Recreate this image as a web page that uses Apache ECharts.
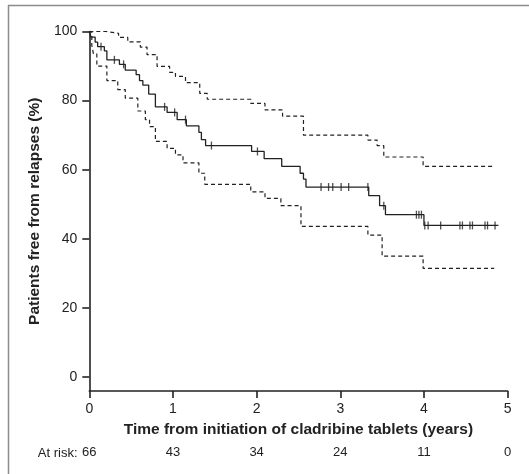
<!DOCTYPE html>
<html>
<head>
<meta charset="utf-8">
<script src="https://cdn.jsdelivr.net/npm/echarts@6/dist/echarts.min.js"></script>
<style>
html,body{margin:0;padding:0;background:#fff;}
#chart{width:529px;height:474px;}
</style>
</head>
<body>
<div id="chart"></div>
<script>
// Kaplan-Meier estimate (time in years, % free from relapses)
const kmTime = [0,0.02,0.07,0.10,0.18,0.21,0.36,0.43,0.56,0.60,0.64,0.71,0.79,0.93,1.05,1.16,1.31,1.34,1.39,1.94,2.09,2.30,2.52,2.56,2.59,3.34,3.47,3.54,4.00,4.89];
const kmSurv = [100,98.4,96.9,95.6,94.4,91.8,90.5,88.8,87.5,85.8,84.5,81.9,78.2,76.6,74.5,72.7,70.8,68.7,67.0,65.3,63.2,61.0,59.0,57.3,55.0,52.5,49.6,47.0,43.9,43.9];
// Censored observations
const censorTime = [0.14,0.30,0.41,0.90,1.02,1.15,1.46,2.01,2.77,2.86,2.91,3.01,3.10,3.33,3.52,3.91,3.94,3.97,4.01,4.05,4.20,4.43,4.46,4.55,4.58,4.73,4.76,4.85];
const censorSurv = [95.6,91.8,90.5,78.2,76.6,74.5,67.0,65.3,55,55,55,55,55,55,49.6,47,47,47,43.9,43.9,43.9,43.9,43.9,43.9,43.9,43.9,43.9,43.9];
// Upper 95% CI
const upTime = [0,0.20,0.35,0.46,0.61,0.69,0.81,0.96,1.03,1.15,1.32,1.41,1.93,2.10,2.31,2.56,3.33,3.44,3.52,3.99,4.85];
const upVal = [100,99.5,98.3,97,95.5,93.3,89.9,88.2,87,85.2,82.1,80.4,79.2,77.3,75.5,70,68.6,67,63.7,61,61];
// Lower 95% CI
const loTime = [0,0.03,0.05,0.09,0.21,0.34,0.43,0.58,0.67,0.72,0.79,0.93,1.03,1.12,1.31,1.38,1.93,2.10,2.29,2.53,3.33,3.50,3.99,4.84];
const loVal = [100,96,93.5,90,85.8,83.2,80.7,77,74.5,72.5,68.2,66.2,64.3,62,59,55.8,53.6,51.7,49.6,43.6,41.1,35,31.5,31.5];
// Numbers at risk
const atRiskTime = [0,1,2,3,4,5];
const atRisk = [66,43,34,24,11,0];
const yTicks = [0,20,40,60,80,100];

const zip = (a,b) => a.map((t,i) => [t,b[i]]);
const ink = '#222';
const font = '"Liberation Sans", Arial, Helvetica, sans-serif';

const chart = echarts.init(document.getElementById('chart'), null, {renderer:'canvas'});
chart.setOption({
  animation:false,
  backgroundColor:'#fff',
  grid:{left:89.3, right:21.4, top:31.5, bottom:83, containLabel:false},
  xAxis:[{
    type:'value', min:0, max:5, interval:1,
    position:'bottom',
    axisLine:{show:true, onZero:false, lineStyle:{color:ink, width:1.6}},
    axisTick:{show:true, length:7, lineStyle:{color:ink, width:1.6}},
    axisLabel:{color:ink, fontSize:14, fontFamily:font, margin:11},
    splitLine:{show:false},
    name:'Time from initiation of cladribine tablets (years)',
    nameLocation:'middle', nameGap:31,
    nameTextStyle:{color:ink, fontSize:15.5, fontWeight:'bold', fontFamily:font}
  },{
    type:'value', min:0, max:5, interval:1,
    position:'bottom',
    axisLine:{show:false}, axisTick:{show:false}, splitLine:{show:false},
    axisLabel:{color:ink, fontSize:13, fontFamily:font, margin:55,
      formatter:v => { const i = atRiskTime.indexOf(v); return i >= 0 ? String(atRisk[i]) : ''; }}
  }],
  yAxis:{
    type:'value', min:-4, max:100,
    axisLine:{show:true, onZero:false, lineStyle:{color:ink, width:1.6}},
    axisTick:{show:true, length:7, lineStyle:{color:ink, width:1.6}, customValues:yTicks},
    axisLabel:{color:ink, fontSize:14, fontFamily:font, margin:12, customValues:yTicks},
    splitLine:{show:false},
    name:'Patients free from relapses (%)',
    nameLocation:'middle', nameGap:45,
    nameTextStyle:{color:ink, fontSize:15.5, fontWeight:'bold', fontFamily:font}
  },
  graphic:[
    {type:'line', shape:{x1:8.5, y1:5, x2:8.5, y2:474}, style:{stroke:'#8c8c8c', lineWidth:1.5}, silent:true},
    {type:'line', shape:{x1:8, y1:5.5, x2:529, y2:5.5}, style:{stroke:'#8c8c8c', lineWidth:1.5}, silent:true},
    {type:'text', x:77.5, y:453, style:{text:'At risk:', fill:ink, font:'13px '+font, textAlign:'right', textVerticalAlign:'middle'}, silent:true}
  ],
  series:[
    {type:'line', step:'end', data:zip(upTime,upVal), showSymbol:false, symbol:'none',
     lineStyle:{color:ink, width:1.2, type:[4,3]}, z:2},
    {type:'line', step:'end', data:zip(loTime,loVal), showSymbol:false, symbol:'none',
     lineStyle:{color:ink, width:1.2, type:[4,3]}, z:2},
    {type:'line', step:'end', data:zip(kmTime,kmSurv), showSymbol:false, symbol:'none',
     lineStyle:{color:ink, width:1.3}, z:3},
    {type:'scatter', data:zip(censorTime,censorSurv), symbol:'rect', symbolSize:[1.3,8],
     itemStyle:{color:ink}, z:4}
  ]
});
</script>
</body>
</html>
